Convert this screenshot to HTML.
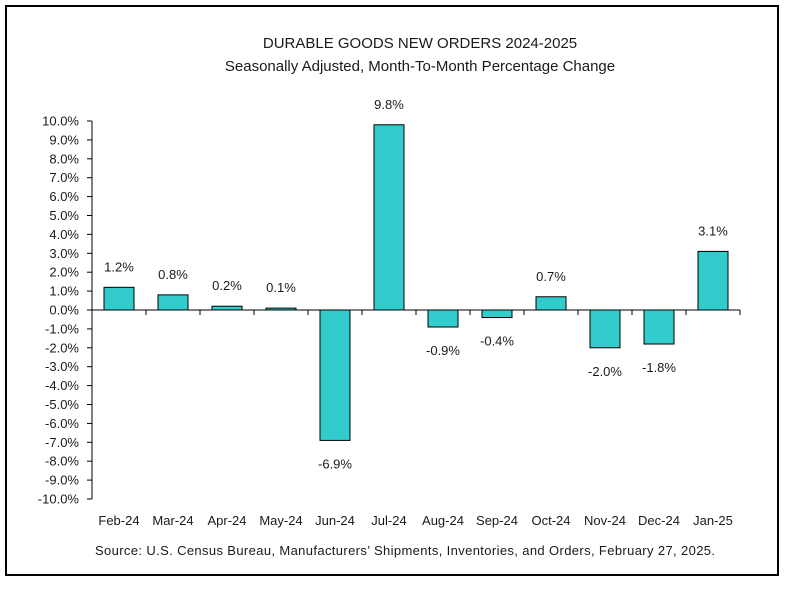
<!DOCTYPE html>
<html><head><meta charset="utf-8"><style>
body{margin:0;background:#fff;}
svg text{font-family:"Liberation Sans",sans-serif;fill:#1a1a1a;}
</style></head><body>
<svg width="793" height="589" xmlns="http://www.w3.org/2000/svg">
<rect x="6" y="6" width="772" height="569" fill="#fff" stroke="#000" stroke-width="2"/>
<text x="420" y="48" font-size="15" text-anchor="middle">DURABLE GOODS NEW ORDERS 2024-2025</text>
<text x="420" y="71" font-size="15" text-anchor="middle">Seasonally Adjusted,  Month-To-Month Percentage Change</text>
<g id="plot"></g>
<text x="405" y="555" font-size="13" text-anchor="middle" textLength="620">Source: U.S. Census Bureau, Manufacturers’ Shipments, Inventories, and Orders, February 27, 2025.</text>
</svg>
<script>
const categories=["Feb-24","Mar-24","Apr-24","May-24","Jun-24","Jul-24","Aug-24","Sep-24","Oct-24","Nov-24","Dec-24","Jan-25"];
const values=[1.2,0.8,0.2,0.1,-6.9,9.8,-0.9,-0.4,0.7,-2.0,-1.8,3.1];
const yTicks=[10,9,8,7,6,5,4,3,2,1,0,-1,-2,-3,-4,-5,-6,-7,-8,-9,-10];
const NS="http://www.w3.org/2000/svg";
const g=document.getElementById('plot');
const x0=92,x1=740,yTop=121,yBot=499,vMax=10,vMin=-10;
const y=v=>yTop+(vMax-v)/(vMax-vMin)*(yBot-yTop);
const bw=(x1-x0)/categories.length;
const xc=i=>x0+bw*(i+0.5);
function mk(t,a){const e=document.createElementNS(NS,t);for(const k in a)e.setAttribute(k,a[k]);g.appendChild(e);return e;}
let ax=mk('line',{x1:x0,y1:yTop,x2:x0,y2:yBot,stroke:'#000','stroke-width':1});


yTicks.forEach(t=>{
  let l=mk('line',{x1:x0-5,y1:y(t),x2:x0,y2:y(t),stroke:'#000'});
  
  
  let tx=mk('text',{x:x0-13,y:y(t)+4.5,'font-size':13,'text-anchor':'end'});
  tx.textContent=t.toFixed(1)+'%';
  
  
});
values.forEach((v,i)=>{
  const top=y(Math.max(v,0)),bot=y(Math.min(v,0));
  let r=mk('rect',{x:xc(i)-15,y:top,width:30,height:bot-top,fill:'#33CCCC',stroke:'#000','stroke-width':1});
  
  
  let lb=mk('text',{x:xc(i),y:v>=0?y(v)-16:y(v)+28,'font-size':13,'text-anchor':'middle'});
  lb.textContent=v.toFixed(1)+'%';
  
  
  let c=mk('text',{x:xc(i),y:525,'font-size':13,'text-anchor':'middle'});
  c.textContent=categories[i];
  
  
});
let xa=mk('line',{x1:x0,y1:y(0),x2:x1,y2:y(0),stroke:'#000'});


for(let i=1;i<=categories.length;i++){
  let t=mk('line',{x1:x0+bw*i,y1:y(0),x2:x0+bw*i,y2:y(0)+5,stroke:'#000'});
  
  
}
</script>
</body></html>
